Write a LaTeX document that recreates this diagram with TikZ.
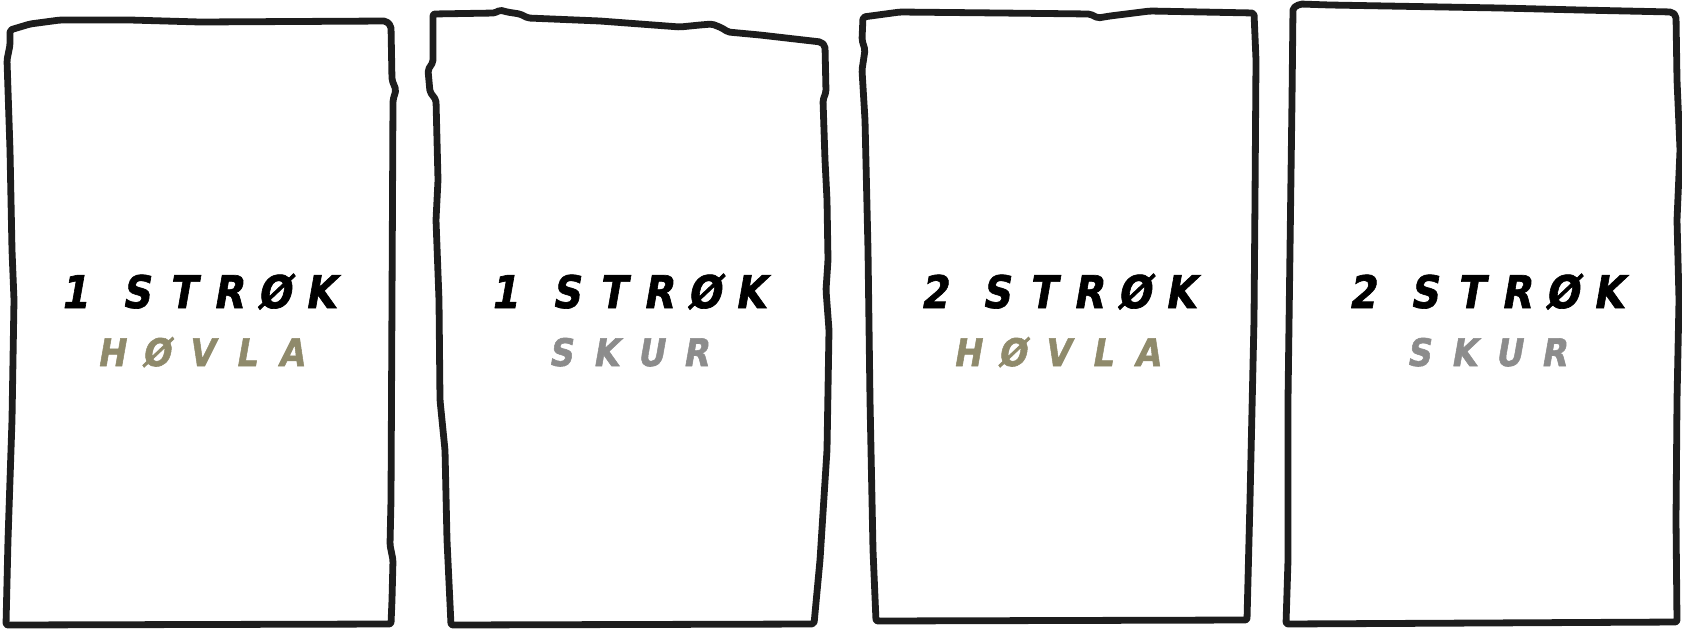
\documentclass[tikz,border=0pt]{standalone}
\usepackage{fontspec}
\usepackage{graphicx}
\newfontfamily\handfont[FakeSlant=0.2,FakeBold=1.5]{DejaVu Sans}
\definecolor{inkline}{HTML}{1D1D1D}
\definecolor{olivetxt}{HTML}{8F8A6B}
\definecolor{greytxt}{HTML}{8C8C8C}
\newcommand\cellA[1]{\makebox[46pt]{\scalebox{0.88}[1]{#1}}}
\newcommand\cellB[1]{\makebox[45pt]{\scalebox{0.88}[1]{#1}}}
\newcommand\gapA{\hspace{16pt}}
\tikzset{
  sheet/.style={draw=inkline, line width=6.8pt, line join=round, rounded corners=2pt, fill=white},
  topline/.style={inner sep=0pt, anchor=base, font=\handfont\bfseries\fontsize{45}{45}\selectfont, text=black},
  hovla/.style={inner sep=0pt, anchor=base, font=\handfont\bfseries\fontsize{38}{38}\selectfont, text=olivetxt},
  skur/.style={inner sep=0pt, anchor=base, font=\handfont\bfseries\fontsize{38}{38}\selectfont, text=greytxt}
}
\begin{document}
\begin{tikzpicture}[x=1pt,y=-1pt]
\useasboundingbox (0,0) rectangle (1682,630);
% box 1
\draw[sheet] (10,30) -- (30,24) -- (60,20) -- (130,20) -- (200,22) -- (386,21) -- (391,26) -- (392,80) -- (396,90) -- (393,100) -- (392,300) -- (391,500) -- (390,545) -- (393,560) -- (392,600) -- (391,624) -- (6,625) -- (8,540) -- (12,420) -- (14,300) -- (12,250) -- (10,150) -- (7,60) -- (10,45) -- cycle;
% box 2
\draw[sheet] (433,14) -- (495,13) -- (500,10) -- (507,12) -- (520,14) -- (528,18) -- (600,21) -- (680,27) -- (700,25) -- (712,24) -- (722,28) -- (728,32) -- (760,35) -- (821,42) -- (825,46) -- (826,92) -- (823,100) -- (825,160) -- (827,200) -- (828,260) -- (826,290) -- (829,330) -- (827,450) -- (820,560) -- (814,624) -- (451,625) -- (447,540) -- (445,450) -- (440,400) -- (439,300) -- (436,220) -- (438,180) -- (436,100) -- (430,92) -- (428,70) -- (433,62) -- cycle;
% box 3
\draw[sheet] (863,17) -- (900,12) -- (1000,13) -- (1090,14) -- (1098,18) -- (1110,16) -- (1150,11) -- (1254,13) -- (1256,60) -- (1255,200) -- (1254,320) -- (1250,500) -- (1247,620) -- (876,621) -- (873,550) -- (870,400) -- (868,250) -- (865,120) -- (862,70) -- (865,50) -- (862,40) -- cycle;
% box 4
\draw[sheet] (1293,8) -- (1300,4) -- (1330,5) -- (1500,8) -- (1580,10) -- (1672,12) -- (1676,16) -- (1677,80) -- (1680,150) -- (1677,220) -- (1679,300) -- (1677,400) -- (1676,520) -- (1677,622) -- (1286,624) -- (1288,560) -- (1288,400) -- (1290,250) -- (1292,100) -- cycle;
% texts
\node[topline] (a1) at (197,308) {\cellA{1}\gapA\cellA{S}\cellA{T}\cellA{R}\cellA{Ø}\cellA{K}};
\node[hovla] (a2) at (201,366) {\cellB{H}\cellB{Ø}\cellB{V}\cellB{L}\cellB{A}};
\node[topline] (b1) at (627,308) {\cellA{1}\gapA\cellA{S}\cellA{T}\cellA{R}\cellA{Ø}\cellA{K}};
\node[skur] (b2) at (628,366) {\cellB{S}\cellB{K}\cellB{U}\cellB{R}};
\node[topline] (c1) at (1057,308) {\cellA{2}\gapA\cellA{S}\cellA{T}\cellA{R}\cellA{Ø}\cellA{K}};
\node[hovla] (c2) at (1057,366) {\cellB{H}\cellB{Ø}\cellB{V}\cellB{L}\cellB{A}};
\node[topline] (d1) at (1485,308) {\cellA{2}\gapA\cellA{S}\cellA{T}\cellA{R}\cellA{Ø}\cellA{K}};
\node[skur] (d2) at (1486,366) {\cellB{S}\cellB{K}\cellB{U}\cellB{R}};
\end{tikzpicture}
\end{document}
